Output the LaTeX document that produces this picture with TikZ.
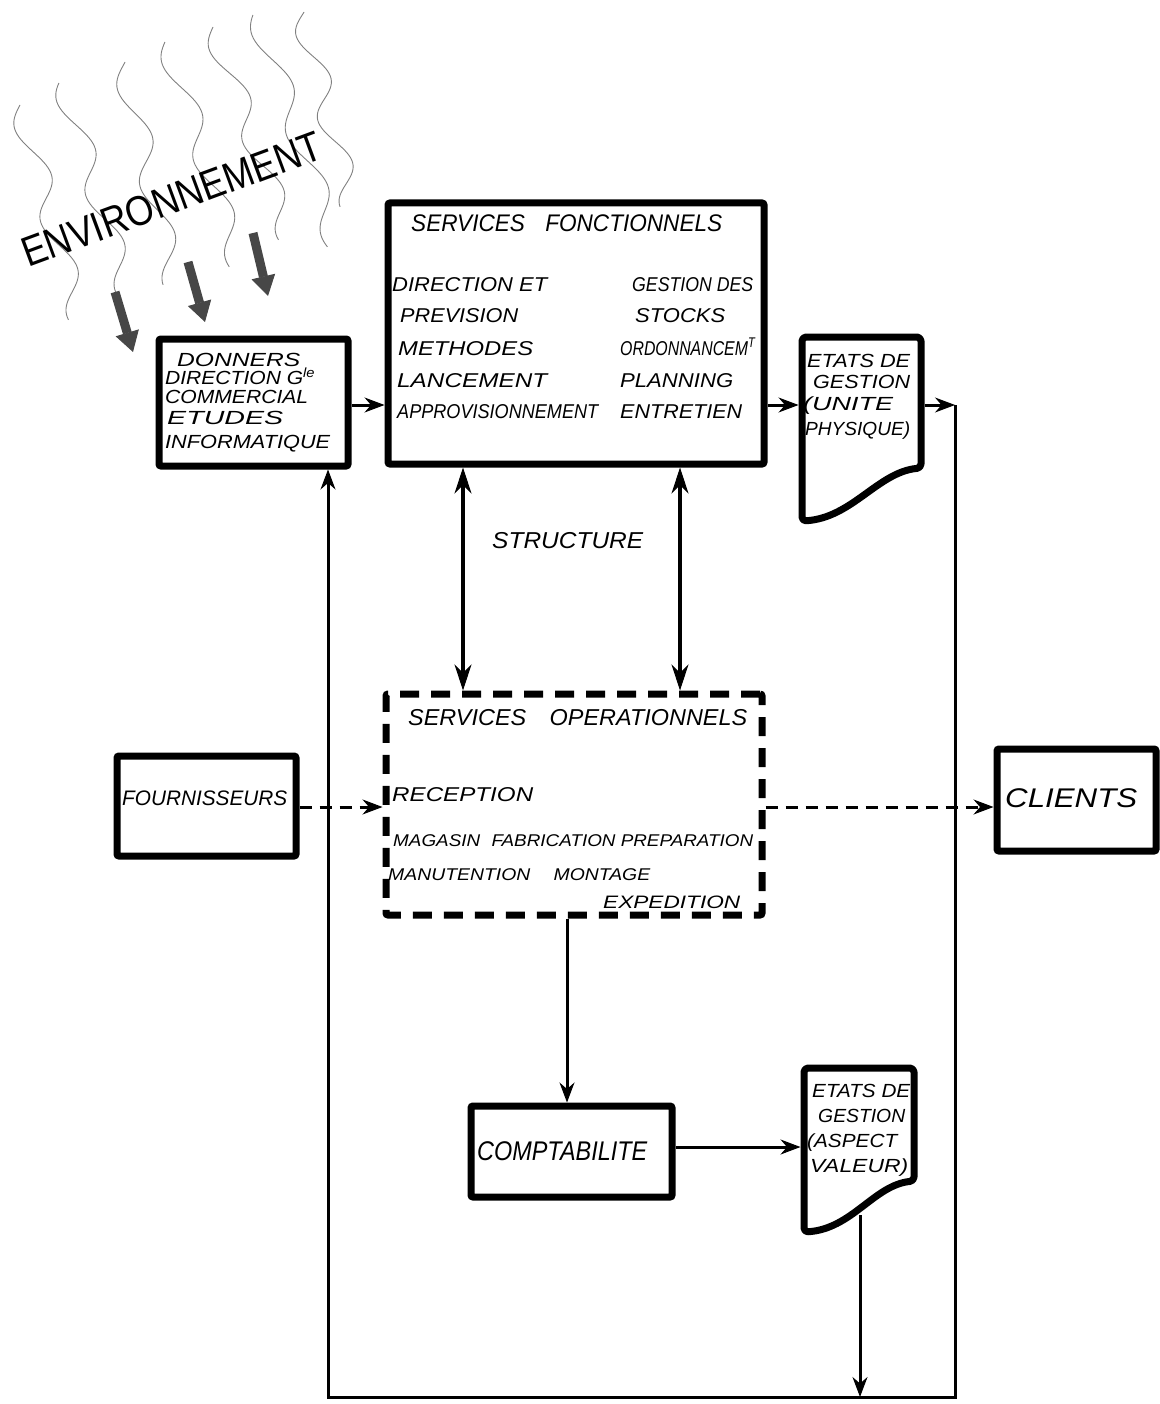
\documentclass[tikz,border=0pt]{standalone}
\usepackage{fontspec}
\setmainfont{Liberation Sans}
\usetikzlibrary{arrows.meta}
% set a text line to a given width, keeping its height
\newcommand{\fw}[2]{\resizebox{#1pt}{\height}{#2}}

\begin{document}
\begin{tikzpicture}[x=1pt,y=-1pt,
  box/.style={draw=black, line width=7pt, rounded corners=2pt, inner sep=0pt},
  dbox/.style={box, dash pattern=on 19pt off 12pt},
  ghost/.style={inner sep=0pt, outer sep=3.5pt},
  txt/.style={inner sep=0pt, anchor=base west, font=\itshape\fontsize{#1}{#1}\selectfont},
  title/.style={inner sep=0pt, anchor=base west, font=\fontsize{#1}{#1}\selectfont},
  conn/.style={line width=3pt, -{Stealth[length=20pt,width=15pt,line width=1pt]}},
  dconn/.style={conn, dash pattern=on 12pt off 8pt},
  both/.style={line width=3.5pt,
    {Stealth[length=26pt,width=17pt,line width=1pt]}-{Stealth[length=26pt,width=17pt,line width=1pt]}},
  wave/.style={draw=black!50, line width=0.9pt},
  fat/.style={draw=black!72, line width=9pt, -{Triangle[length=20pt,width=24pt,line width=1pt]}},
  outline/.style={draw=black, line width=7pt, rounded corners=4pt, line join=round}
]
\useasboundingbox (0,0) rectangle (1159,1404);

% ---- environment: wavy lines, title and incoming arrows
\foreach \xa/\ya/\xb/\yb/\ph in {20/105/80/320/180, 63/83/130/300/200, 123/62/175/285/170,
    167/42/240/267/190, 213/27/290/240/180, 257/15/337/247/200, 302/12/352/207/170}
  \draw[wave] plot[domain=0:1, samples=80, smooth, variable=\t]
    ({\xa+(\xb-\xa)*\t+12*sin(2.3*360*\t+\ph)}, {\ya+(\yb-\ya)*\t});
\node[title=42, rotate=20.3] (env) at (28,268) {\fw{317}{ENVIRONNEMENT}};
\draw[fat] (115,292) -- (133,352);
\draw[fat] (188,262) -- (205,322);
\draw[fat] (253,233) -- (268,296);

% ---- boxes
\node[box, minimum width=189pt, minimum height=127pt] (donners) at (253.5,402.5) {};
\node[box, minimum width=376pt, minimum height=261pt] (sf) at (576,333.5) {};
\node[dbox, minimum width=376pt, minimum height=221pt] (so) at (574,804.5) {};
\node[box, minimum width=179pt, minimum height=100pt] (four) at (206.5,806) {};
\node[box, minimum width=159pt, minimum height=102pt] (clients) at (1076.5,800) {};
\node[box, minimum width=201pt, minimum height=91pt] (compta) at (571.5,1151.5) {};

% ---- document shapes (management reports)
\node[ghost, minimum width=119pt, minimum height=184pt] (etats1) at (861.5,429) {};
\draw[outline] (802,337) -- (921,337) -- (921,468)
  .. controls (878,472) and (852,518) .. (802,521) -- cycle;
\node[ghost, minimum width=110pt, minimum height=164pt] (etats2) at (859,1150) {};
\draw[outline] (804,1068) -- (914,1068) -- (914,1181)
  .. controls (874,1185) and (852,1229) .. (804,1232) -- cycle;

% ---- texts
\node[txt=19] (d1) at (177,366) {\fw{123}{DONNERS}};
\node[txt=19] (d2) at (165,384) {\fw{150}{DIRECTION G\textsuperscript{le}}};
\node[txt=19] (d3) at (165,403) {\fw{143}{COMMERCIAL}};
\node[txt=19] (d4) at (167,424) {\fw{116}{ETUDES}};
\node[txt=19] (d5) at (165,448) {\fw{165}{INFORMATIQUE}};

\node[txt=24] (sft) at (411,232) {\fw{311}{SERVICES\hspace{0.9em}FONCTIONNELS}};
\node[txt=20] (sf1) at (392,292) {\fw{155}{DIRECTION ET}};
\node[txt=20] (sf2) at (400,323) {\fw{118}{PREVISION}};
\node[txt=20] (sf3) at (398,355) {\fw{135}{METHODES}};
\node[txt=20] (sf4) at (397,387) {\fw{150}{LANCEMENT}};
\node[txt=20] (sf5) at (397,418) {\fw{201}{APPROVISIONNEMENT}};
\node[txt=20] (sf6) at (632,292) {\fw{121}{GESTION DES}};
\node[txt=20] (sf7) at (635,323) {\fw{90}{STOCKS}};
\node[txt=20] (sf8) at (620,355) {\fw{135}{ORDONNANCEM\textsuperscript{T}}};
\node[txt=20] (sf9) at (620,387) {\fw{113}{PLANNING}};
\node[txt=20] (sf10) at (620,418) {\fw{122}{ENTRETIEN}};

\node[txt=19] (e1) at (807,367) {\fw{103}{ETATS DE}};
\node[txt=19] (e2) at (813,388) {\fw{97}{GESTION}};
\node[txt=19] (e3) at (803,410) {\fw{90}{(UNITE}};
\node[txt=19] (e4) at (805,435) {\fw{105}{PHYSIQUE)}};

\node[txt=23] (st) at (492,548) {\fw{151}{STRUCTURE}};

\node[txt=23] (sot) at (408,725) {\fw{339}{SERVICES\hspace{1em}OPERATIONNELS}};
\node[txt=20] (so1) at (392,801) {\fw{141}{RECEPTION}};
\node[txt=17] (so2) at (393,846) {\fw{360}{MAGASIN\hspace{0.6em}FABRICATION PREPARATION}};
\node[txt=17] (so3) at (388,880) {\fw{262}{MANUTENTION\hspace{1.2em}MONTAGE}};
\node[txt=18] (so4) at (603,908) {\fw{137}{EXPEDITION}};

\node[txt=21] (fo) at (122,805) {\fw{165}{FOURNISSEURS}};
\node[txt=27] (cl) at (1005,807) {\fw{132}{CLIENTS}};
\node[txt=27] (co) at (477,1160) {\fw{170}{COMPTABILITE}};

\node[txt=19] (f1) at (812,1097) {\fw{98}{ETATS DE}};
\node[txt=19] (f2) at (818,1122) {\fw{87}{GESTION}};
\node[txt=19] (f3) at (807,1147) {\fw{90}{(ASPECT}};
\node[txt=19] (f4) at (810,1172) {\fw{98}{VALEUR)}};

% ---- connectors
\coordinate (r1) at (0,405);
\coordinate (r2) at (0,807);
\coordinate (r3) at (0,1147);
\coordinate (c1) at (463,0);
\coordinate (c2) at (680,0);
\coordinate (c3) at (567,0);
\coordinate (jr) at (955,405);
\coordinate (rb) at (955,1397);
\coordinate (lb) at (328,1397);
\coordinate (e2bot) at (860,1215);

\draw[conn] (donners.east |- r1) -- (sf.west |- r1);
\draw[conn] (sf.east |- r1) -- (etats1.west |- r1);
\draw[conn] (etats1.east |- r1) -- (jr);
\draw[conn] (jr) -- (rb) -- (lb) -- (donners.south -| lb);
\draw[both] (sf.south -| c1) -- (so.north -| c1);
\draw[both] (sf.south -| c2) -- (so.north -| c2);
\draw[dconn] (four.east |- r2) -- (so.west |- r2);
\draw[dconn] (so.east |- r2) -- (clients.west |- r2);
\draw[conn] (so.south -| c3) -- (compta.north -| c3);
\draw[conn] (compta.east |- r3) -- (etats2.west |- r3);
\draw[conn] (e2bot) -- (e2bot |- lb);
\end{tikzpicture}
\end{document}
